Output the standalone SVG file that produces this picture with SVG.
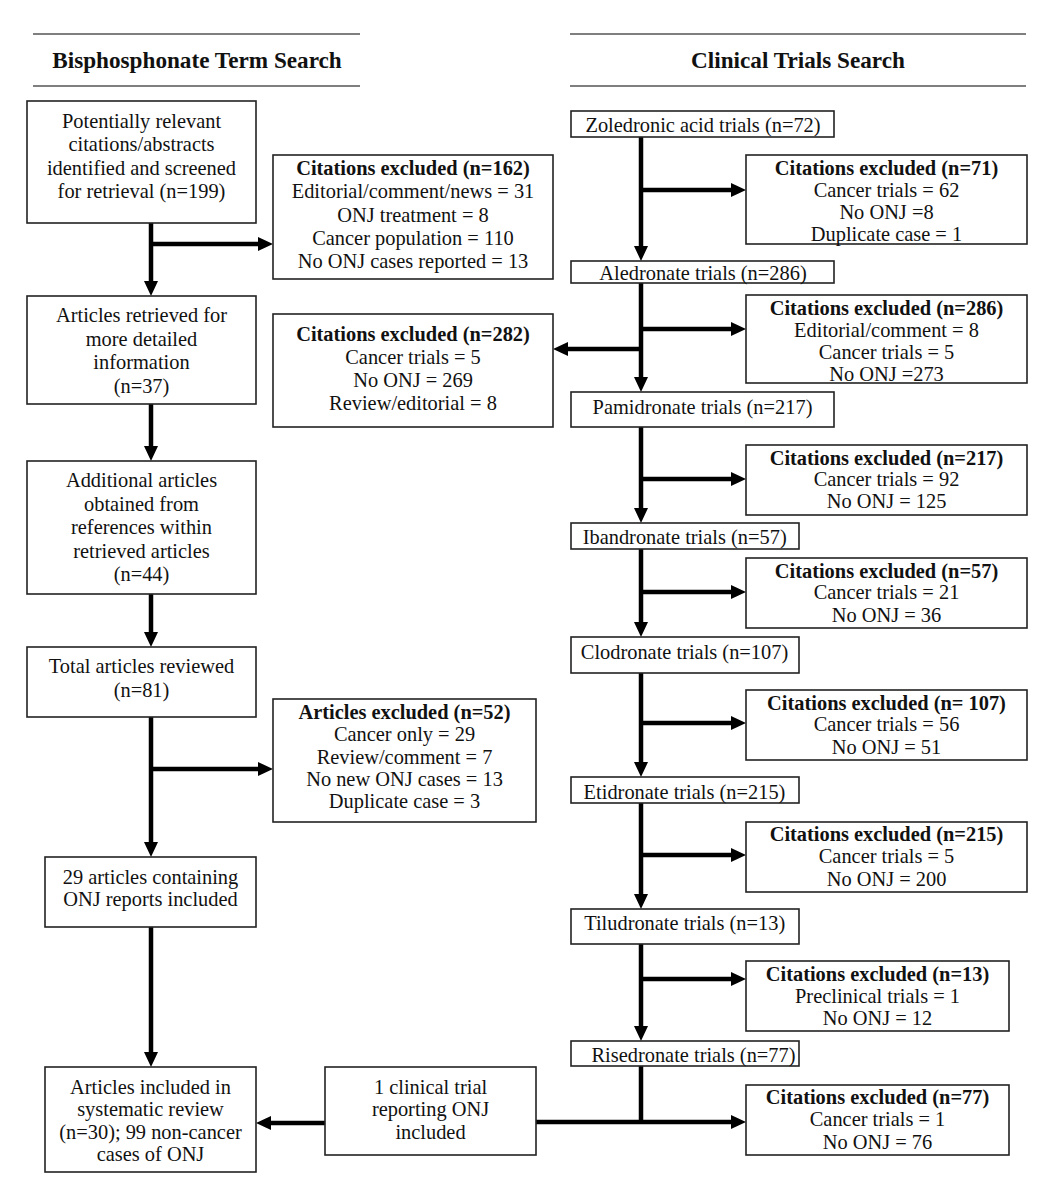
<svg xmlns="http://www.w3.org/2000/svg" width="1050" height="1189" viewBox="0 0 1050 1189">
<style>
  .bg{fill:#ffffff}
  .box{fill:#ffffff;stroke:#222;stroke-width:1.6}
  .hdr{stroke:#555;stroke-width:1.6}
  .t{font-family:"Liberation Serif","Times New Roman",serif;font-size:20.4px;fill:#111;text-anchor:middle}
  .b{font-weight:bold}
  .title{font-family:"Liberation Serif","Times New Roman",serif;font-size:23.2px;font-weight:bold;fill:#111;text-anchor:middle}
  .c{fill:none;stroke:#000;stroke-width:4.5}
</style>
<defs>
  <marker id="ah" markerUnits="userSpaceOnUse" markerWidth="15" markerHeight="14" refX="1" refY="7" orient="auto">
    <path d="M0,0 L15,7 L0,14 z" fill="#000"/>
  </marker>
</defs>
<rect class="bg" x="0" y="0" width="1050" height="1189"/>

<g id="header-left">
  <line class="hdr" x1="33" y1="34" x2="360" y2="34"/>
  <text class="title" x="197" y="68">Bisphosphonate Term Search</text>
  <line class="hdr" x1="33" y1="86" x2="360" y2="86"/>
</g>
<g id="header-right">
  <line class="hdr" x1="570" y1="34" x2="1026" y2="34"/>
  <text class="title" x="798" y="68">Clinical Trials Search</text>
  <line class="hdr" x1="570" y1="86" x2="1026" y2="86"/>
</g>

<g id="connectors">
  <!-- left column -->
  <path class="c" d="M151,223 V282" marker-end="url(#ah)"/>
  <path class="c" d="M151,244 H259" marker-end="url(#ah)"/>
  <path class="c" d="M151,404 V447" marker-end="url(#ah)"/>
  <path class="c" d="M151,594 V633" marker-end="url(#ah)"/>
  <path class="c" d="M151,717 V843" marker-end="url(#ah)"/>
  <path class="c" d="M151,769 H259" marker-end="url(#ah)"/>
  <path class="c" d="M151,927 V1053" marker-end="url(#ah)"/>
  <path class="c" d="M325,1123 H270" marker-end="url(#ah)"/>
  <!-- right column -->
  <path class="c" d="M641,137 V247" marker-end="url(#ah)"/>
  <path class="c" d="M641,190 H732" marker-end="url(#ah)"/>
  <path class="c" d="M641,283 V378" marker-end="url(#ah)"/>
  <path class="c" d="M641,329 H732" marker-end="url(#ah)"/>
  <path class="c" d="M643,349 H567" marker-end="url(#ah)"/>
  <path class="c" d="M641,427 V509" marker-end="url(#ah)"/>
  <path class="c" d="M641,479 H732" marker-end="url(#ah)"/>
  <path class="c" d="M641,549 V623" marker-end="url(#ah)"/>
  <path class="c" d="M641,592 H732" marker-end="url(#ah)"/>
  <path class="c" d="M641,673 V763" marker-end="url(#ah)"/>
  <path class="c" d="M641,723 H732" marker-end="url(#ah)"/>
  <path class="c" d="M641,803 V895" marker-end="url(#ah)"/>
  <path class="c" d="M641,855 H732" marker-end="url(#ah)"/>
  <path class="c" d="M641,944 V1027" marker-end="url(#ah)"/>
  <path class="c" d="M641,979 H732" marker-end="url(#ah)"/>
  <path class="c" d="M641,1066 V1124"/>
  <path class="c" d="M536,1122 H732" marker-end="url(#ah)"/>
</g>

<g id="n-potential">
  <rect class="box" x="27" y="101" width="229" height="122"/>
  <text class="t" x="141.5" y="128">Potentially relevant</text>
  <text class="t" x="141.5" y="151">citations/abstracts</text>
  <text class="t" x="141.5" y="174.5">identified and screened</text>
  <text class="t" x="141.5" y="198">for retrieval (n=199)</text>
</g>
<g id="n-excl162">
  <rect class="box" x="273" y="155" width="280" height="124"/>
  <text class="t b" x="413" y="175">Citations excluded (n=162)</text>
  <text class="t" x="413" y="198">Editorial/comment/news = 31</text>
  <text class="t" x="413" y="221.5">ONJ treatment = 8</text>
  <text class="t" x="413" y="245">Cancer population = 110</text>
  <text class="t" x="413" y="268">No ONJ cases reported = 13</text>
</g>
<g id="n-retrieved">
  <rect class="box" x="27" y="296" width="229" height="108"/>
  <text class="t" x="141.5" y="322">Articles retrieved for</text>
  <text class="t" x="141.5" y="346">more detailed</text>
  <text class="t" x="141.5" y="369">information</text>
  <text class="t" x="141.5" y="393">(n=37)</text>
</g>
<g id="n-excl282">
  <rect class="box" x="273" y="314" width="280" height="113"/>
  <text class="t b" x="413" y="341">Citations excluded (n=282)</text>
  <text class="t" x="413" y="364">Cancer trials = 5</text>
  <text class="t" x="413" y="387">No ONJ = 269</text>
  <text class="t" x="413" y="410">Review/editorial = 8</text>
</g>
<g id="n-additional">
  <rect class="box" x="27" y="461" width="229" height="133"/>
  <text class="t" x="141.5" y="487">Additional articles</text>
  <text class="t" x="141.5" y="510.5">obtained from</text>
  <text class="t" x="141.5" y="534">references within</text>
  <text class="t" x="141.5" y="558">retrieved articles</text>
  <text class="t" x="141.5" y="581">(n=44)</text>
</g>
<g id="n-total">
  <rect class="box" x="27" y="647" width="229" height="70"/>
  <text class="t" x="141.5" y="673">Total articles reviewed</text>
  <text class="t" x="141.5" y="697">(n=81)</text>
</g>
<g id="n-excl52">
  <rect class="box" x="273" y="699" width="263" height="123"/>
  <text class="t b" x="404.5" y="719">Articles excluded (n=52)</text>
  <text class="t" x="404.5" y="741">Cancer only = 29</text>
  <text class="t" x="404.5" y="763.5">Review/comment = 7</text>
  <text class="t" x="404.5" y="786">No new ONJ cases = 13</text>
  <text class="t" x="404.5" y="808">Duplicate case = 3</text>
</g>
<g id="n-29articles">
  <rect class="box" x="45" y="857" width="211" height="70"/>
  <text class="t" x="150.5" y="883.5">29 articles containing</text>
  <text class="t" x="150.5" y="906">ONJ reports included</text>
</g>
<g id="n-included">
  <rect class="box" x="45" y="1067" width="211" height="105"/>
  <text class="t" x="150.5" y="1093.5">Articles included in</text>
  <text class="t" x="150.5" y="1116">systematic review</text>
  <text class="t" x="150.5" y="1138.5">(n=30); 99 non-cancer</text>
  <text class="t" x="150.5" y="1161">cases of ONJ</text>
</g>
<g id="n-1trial">
  <rect class="box" x="325" y="1067" width="211" height="88"/>
  <text class="t" x="430.5" y="1093.5">1 clinical trial</text>
  <text class="t" x="430.5" y="1116">reporting ONJ</text>
  <text class="t" x="430.5" y="1138.5">included</text>
</g>

<g id="n-zoledronic">
  <rect class="box" x="571" y="111" width="263" height="26"/>
  <text class="t" x="703" y="132">Zoledronic acid trials (n=72)</text>
</g>
<g id="n-excl71">
  <rect class="box" x="746" y="155" width="281" height="89"/>
  <text class="t b" x="886.5" y="175">Citations excluded (n=71)</text>
  <text class="t" x="886.5" y="197">Cancer trials = 62</text>
  <text class="t" x="886.5" y="219">No ONJ =8</text>
  <text class="t" x="886.5" y="241">Duplicate case = 1</text>
</g>
<g id="n-aledronate">
  <rect class="box" x="571" y="261" width="263" height="22"/>
  <text class="t" x="703" y="279.5">Aledronate trials (n=286)</text>
</g>
<g id="n-excl286">
  <rect class="box" x="746" y="295" width="281" height="88"/>
  <text class="t b" x="886.5" y="315">Citations excluded (n=286)</text>
  <text class="t" x="886.5" y="337">Editorial/comment = 8</text>
  <text class="t" x="886.5" y="359">Cancer trials = 5</text>
  <text class="t" x="886.5" y="381">No ONJ =273</text>
</g>
<g id="n-pamidronate">
  <rect class="box" x="571" y="392" width="263" height="35"/>
  <text class="t" x="702.5" y="413.5">Pamidronate trials (n=217)</text>
</g>
<g id="n-excl217">
  <rect class="box" x="746" y="445" width="281" height="70"/>
  <text class="t b" x="886.5" y="465">Citations excluded (n=217)</text>
  <text class="t" x="886.5" y="486">Cancer trials = 92</text>
  <text class="t" x="886.5" y="508">No ONJ = 125</text>
</g>
<g id="n-ibandronate">
  <rect class="box" x="571" y="523" width="228" height="26"/>
  <text class="t" x="684.7" y="543.5">Ibandronate trials (n=57)</text>
</g>
<g id="n-excl57">
  <rect class="box" x="746" y="558" width="281" height="70"/>
  <text class="t b" x="886.5" y="577.5">Citations excluded (n=57)</text>
  <text class="t" x="886.5" y="599">Cancer trials = 21</text>
  <text class="t" x="886.5" y="622">No ONJ = 36</text>
</g>
<g id="n-clodronate">
  <rect class="box" x="571" y="637" width="228" height="36"/>
  <text class="t" x="684.5" y="658.5">Clodronate trials (n=107)</text>
</g>
<g id="n-excl107">
  <rect class="box" x="746" y="690" width="281" height="70"/>
  <text class="t b" x="886.5" y="710">Citations excluded (n= 107)</text>
  <text class="t" x="886.5" y="731">Cancer trials = 56</text>
  <text class="t" x="886.5" y="754">No ONJ = 51</text>
</g>
<g id="n-etidronate">
  <rect class="box" x="571" y="777" width="228" height="26"/>
  <text class="t" x="684.5" y="798.5">Etidronate trials (n=215)</text>
</g>
<g id="n-excl215">
  <rect class="box" x="746" y="822" width="281" height="70"/>
  <text class="t b" x="886.5" y="841">Citations excluded (n=215)</text>
  <text class="t" x="886.5" y="863">Cancer trials = 5</text>
  <text class="t" x="886.5" y="886">No ONJ = 200</text>
</g>
<g id="n-tiludronate">
  <rect class="box" x="571" y="909" width="228" height="35"/>
  <text class="t" x="684.7" y="929.5">Tiludronate trials (n=13)</text>
</g>
<g id="n-excl13">
  <rect class="box" x="746" y="961" width="263" height="70"/>
  <text class="t b" x="877.5" y="981">Citations excluded (n=13)</text>
  <text class="t" x="877.5" y="1003">Preclinical trials = 1</text>
  <text class="t" x="877.5" y="1025">No ONJ = 12</text>
</g>
<g id="n-risedronate">
  <rect class="box" x="571" y="1041" width="228" height="25"/>
  <text class="t" x="693.5" y="1061.5">Risedronate trials (n=77)</text>
</g>
<g id="n-excl77">
  <rect class="box" x="746" y="1085" width="263" height="70"/>
  <text class="t b" x="877.5" y="1104">Citations excluded (n=77)</text>
  <text class="t" x="877.5" y="1126">Cancer trials = 1</text>
  <text class="t" x="877.5" y="1149">No ONJ = 76</text>
</g>
</svg>
